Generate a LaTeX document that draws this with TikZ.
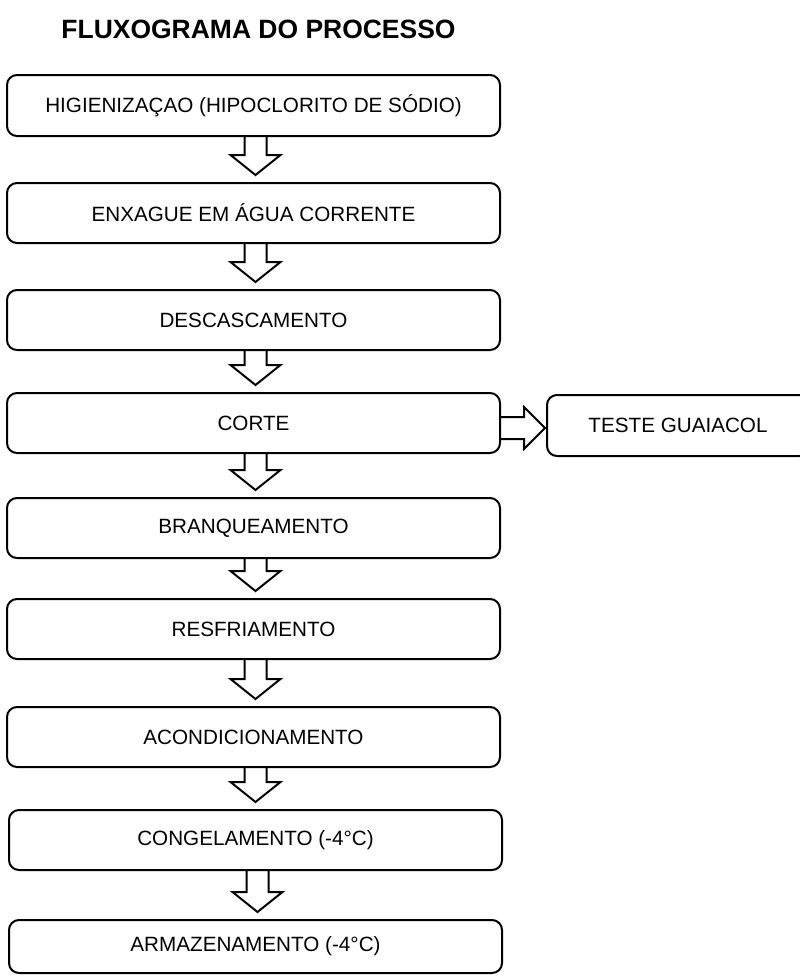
\documentclass[tikz,border=0pt]{standalone}
\usepackage{fontspec}
\setmainfont{Liberation Sans}
\usetikzlibrary{calc}
\newcommand\blkdown[2]{%
  \draw[blk] let \p1=($(#1.south)+(2,0)$), \p2=($(#2.north)+(0,-7)$) in
    (\x1-8.25pt,\y1) -- (\x1-8.25pt,\y2+15pt) -- (\x1-18.75pt,\y2+15pt) --
    (\x1,\y2) -- (\x1+18.75pt,\y2+15pt) -- (\x1+8.25pt,\y2+15pt) -- (\x1+8.25pt,\y1);}
\begin{document}
\begin{tikzpicture}[x=0.75pt,y=-0.75pt,
  stepbox/.style={draw=black, line width=1.5pt, rounded corners=7.5pt,
    minimum height=45pt, minimum width=369.75pt, inner sep=0pt,
    font=\fontsize{15.5}{19}\selectfont, fill=white},
  blk/.style={draw=black, line width=1.5pt, line join=miter},
  titletext/.style={font=\fontsize{19.85}{23}\selectfont\bfseries}]
\useasboundingbox (0,0) rectangle (800,976);
\clip (0,0) rectangle (800,976);
\node[titletext] (title) at (258.5,29) {FLUXOGRAMA DO PROCESSO};
\node[stepbox, minimum height=45.75pt] (b1) at (253.5,105.5) {HIGIENIZAÇAO (HIPOCLORITO DE SÓDIO)};
\node[stepbox] (b2) at (253.5,213) {ENXAGUE EM ÁGUA CORRENTE};
\node[stepbox] (b3) at (253.5,320) {DESCASCAMENTO};
\node[stepbox] (b4) at (253.5,423) {CORTE};
\node[stepbox] (b5) at (253.5,528) {BRANQUEAMENTO};
\node[stepbox] (b6) at (253.5,629) {RESFRIAMENTO};
\node[stepbox] (b7) at (253.5,737) {ACONDICIONAMENTO};
\node[stepbox] (b8) at (255.5,840) {CONGELAMENTO (-4°C)};
\node[stepbox, minimum height=39.75pt] (b9) at (255.5,946.5) {ARMAZENAMENTO (-4°C)};
\node[stepbox, minimum width=196.5pt, minimum height=45.75pt] (tg) at (678,425.5) {TESTE GUAIACOL};
\blkdown{b1}{b2}
\blkdown{b2}{b3}
\blkdown{b3}{b4}
\blkdown{b4}{b5}
\blkdown{b5}{b6}
\blkdown{b6}{b7}
\blkdown{b7}{b8}
\blkdown{b8}{b9}
\draw[blk] let \p1=(b4.east), \p2=(tg.west) in
  (\x1,\y1-3.75pt+8.25pt) -- (\x2-16.5pt,\y1-3.75pt+8.25pt) -- (\x2-16.5pt,\y1-3.75pt+15.75pt) --
  (\x2-0.75pt,\y1-3.75pt) -- (\x2-16.5pt,\y1-3.75pt-15.75pt) -- (\x2-16.5pt,\y1-3.75pt-8.25pt) --
  (\x1,\y1-3.75pt-8.25pt);
\end{tikzpicture}
\end{document}
